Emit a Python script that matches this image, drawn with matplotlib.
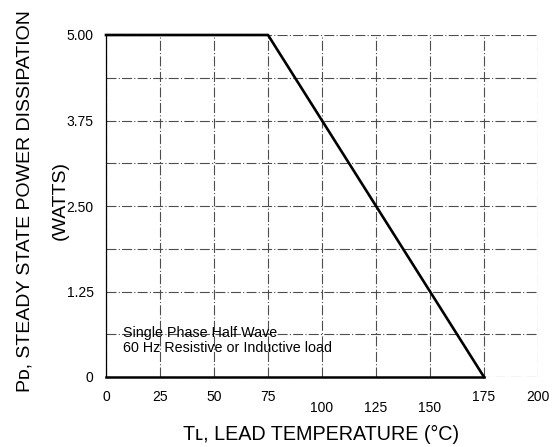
import matplotlib
matplotlib.use("Agg")
import matplotlib.pyplot as plt
import numpy as np

# derating curve: lead temperature (C) vs steady state power (W)
lead_temp = [0, 75, 175]
power_w = [5.0, 5.0, 0.0]

x_ticks = [0, 25, 50, 75, 100, 125, 150, 175, 200]
x_tick_labels = ["0", "25", "50", "75", "100", "125", "150", "175", "200"]
y_ticks = [0, 1.25, 2.5, 3.75, 5.0]
y_tick_labels = ["0", "1.25", "2.50", "3.75", "5.00"]
y_minor = [0.625, 1.875, 3.125, 4.375]

plt.rcParams["font.family"] = ["Liberation Sans", "DejaVu Sans"]

fig = plt.figure(figsize=(5.52, 4.47), dpi=100)
ax = fig.add_axes([106 / 552, 1 - 377 / 447, 432 / 552, 342 / 447])
ax.set_xlim(0, 200)
ax.set_ylim(0, 5)

grid_style = dict(color="0.3", lw=0.8, linestyle=(0, (9, 2, 1, 2)))
ax.set_xticks(x_ticks)
ax.set_yticks(y_ticks)
ax.set_yticks(y_minor, minor=True)
ax.grid(True, which="major", **grid_style)
ax.grid(True, which="minor", axis="y", **grid_style)
ax.tick_params(which="both", length=0)
ax.tick_params(axis="y", pad=9, labelsize=10)
ax.set_yticklabels(y_tick_labels)
ax.set_xticklabels([])

# x tick labels are staggered in the original
for xv, lab in zip(x_ticks, x_tick_labels):
    yoff = -0.091 if 75 < xv < 175 else -0.058
    ax.text(xv, yoff, lab, transform=ax.get_xaxis_transform(),
            ha="center", va="center", fontsize=10)

for side in ("top", "right"):
    ax.spines[side].set_visible(False)
ax.spines["left"].set_linewidth(0.9)
ax.spines["bottom"].set_linewidth(1.8)
ax.spines["bottom"].set_bounds(0, lead_temp[-1])

ax.plot(lead_temp, power_w, color="black", lw=1.9, clip_on=False, zorder=5)

ax.text(8, 0.53, "Single Phase Half Wave\n60 Hz Resistive or Inductive load",
        ha="left", va="center", fontsize=10.3, linespacing=1.1)

fig.text(321 / 552, 1 - 434 / 447, "T\u029f, LEAD TEMPERATURE (°C)",
         ha="center", va="center", fontsize=14.2)
fig.text(25 / 552, 1 - 201 / 447, "P\u1d05, STEADY STATE POWER DISSIPATION",
         ha="center", va="center", rotation=90, fontsize=14)
fig.text(60 / 552, 1 - 200 / 447, "(WATTS)",
         ha="center", va="center", rotation=90, fontsize=14)

fig.savefig("out.png", dpi=100)
